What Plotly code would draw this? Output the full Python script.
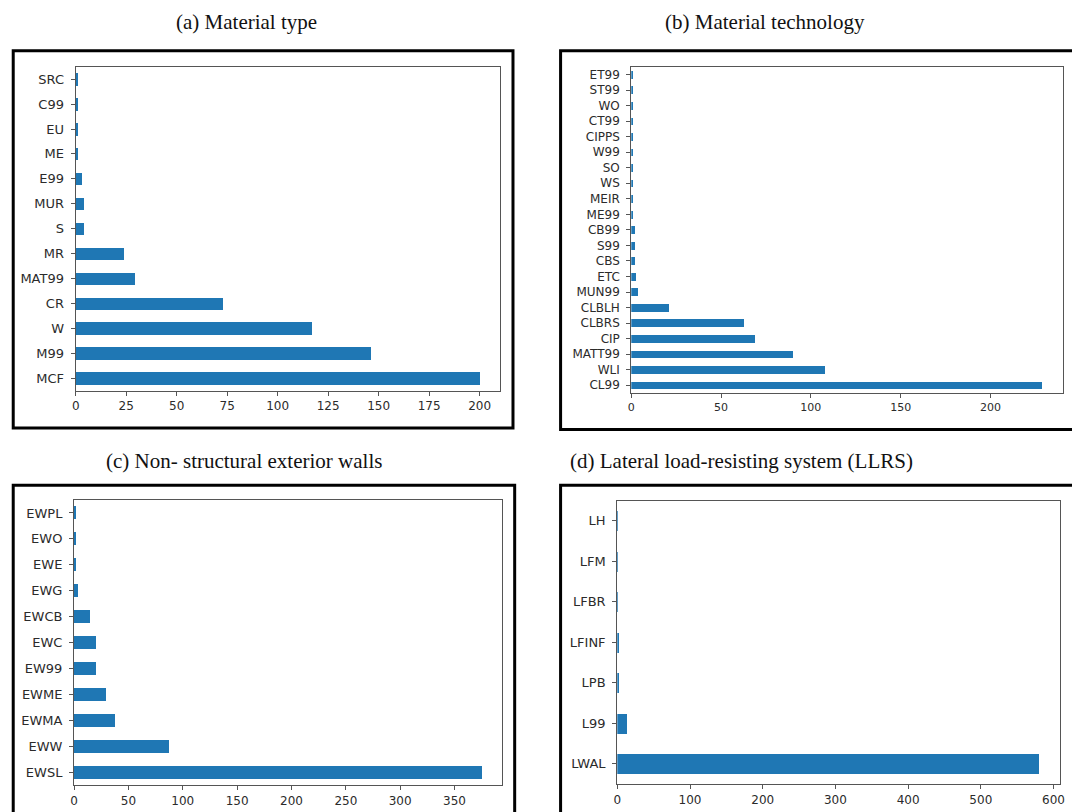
import plotly.graph_objects as go

# Counts per category, listed from the bottom bar upward
a_labels = ["MCF", "M99", "W", "CR", "MAT99", "MR", "S", "MUR", "E99", "ME", "EU", "C99", "SRC"]
a_values = [200, 146, 117, 73, 29, 24, 4, 4, 3, 1, 1, 1, 1]

b_labels = ["CL99", "WLI", "MATT99", "CIP", "CLBRS", "CLBLH", "MUN99", "ETC", "CBS", "S99", "CB99",
            "ME99", "MEIR", "WS", "SO", "W99", "CIPPS", "CT99", "WO", "ST99", "ET99"]
b_values = [229, 108, 90, 69, 63, 21, 4, 3, 2, 2, 2, 1, 1, 1, 1, 1, 1, 1, 1, 1, 1]

c_labels = ["EWSL", "EWW", "EWMA", "EWME", "EW99", "EWC", "EWCB", "EWG", "EWE", "EWO", "EWPL"]
c_values = [375, 87, 38, 29, 20, 20, 15, 4, 2, 2, 2]

d_labels = ["LWAL", "L99", "LPB", "LFINF", "LFBR", "LFM", "LH"]
d_values = [580, 14, 3, 3, 1, 1, 1]

titles = ["(a) Material type", "(b) Material technology",
          "(c) Non- structural exterior walls", "(d) Lateral load-resisting system (LLRS)"]

W, H = 1072, 812
BAR = "#1f77b4"
AX = "#555555"
TXT = "#2b2b2b"


def px(x):
    return x / W


def py(y):
    return 1 - y / H


panels = [
    # labels, values, plot box (left, right, top, bottom), dtick, ytick size, xtick size
    (a_labels, a_values, (72.3, 500.0, 66.7, 390.7), 25, 13, 12),
    (b_labels, b_values, (632.6, 1068.0, 66.7, 393.0), 50, 12, 11),
    (c_labels, c_values, (70.7, 502.3, 500.0, 785.0), 50, 13, 12),
    (d_labels, d_values, (618.5, 1065.0, 500.5, 784.0), 100, 13, 12),
]

fig = go.Figure()
layout = {}
for i, (labels, values, box, dtick, ysz, xsz) in enumerate(panels, start=1):
    sx = "" if i == 1 else str(i)
    fig.add_trace(go.Bar(
        x=values, y=labels, orientation="h", width=0.5,
        marker=dict(color=BAR, line=dict(width=0)),
        xaxis="x" + sx, yaxis="y" + sx, showlegend=False,
        hoverinfo="x+y",
    ))
    left, right, top, bottom = box
    layout["xaxis" + sx] = dict(
        domain=[px(left), px(right)], anchor="y" + sx,
        range=[0, max(values) * 1.05], dtick=dtick, tick0=0,
        showgrid=False, zeroline=False, showline=True, mirror=True,
        linecolor=AX, linewidth=1.2, ticks="outside", ticklen=4, tickcolor=AX,
        tickfont=dict(family="DejaVu Sans", size=xsz, color=TXT),
    )
    layout["yaxis" + sx] = dict(
        domain=[py(bottom), py(top)], anchor="x" + sx,
        type="category", categoryorder="array", categoryarray=labels,
        range=[-0.5, len(labels) - 0.5],
        showgrid=False, zeroline=False, showline=True, mirror=True,
        linecolor=AX, linewidth=1.2, ticks="outside", ticklen=4, tickcolor=AX,
        ticklabelstandoff=4,
        tickfont=dict(family="DejaVu Sans", size=ysz, color=TXT),
    )

fig.update_layout(
    width=W, height=H, margin=dict(l=0, r=0, t=0, b=0),
    paper_bgcolor="white", plot_bgcolor="white", bargap=0,
    **layout,
)

# Black frames around each panel
frames = [(9.3, 513.3, 50.7, 428.0), (561.3, 1085.0, 50.7, 429.5),
          (9.3, 515.0, 485.3, 830.0), (561.3, 1085.0, 485.3, 830.0)]
for x0, x1, y0, y1 in frames:
    fig.add_shape(type="rect", xref="paper", yref="paper",
                  x0=px(x0), x1=px(x1), y0=py(y1), y1=py(y0),
                  line=dict(color="black", width=3), fillcolor="rgba(0,0,0,0)")

# Panel captions
title_pos = [(245, 22), (767, 22), (242, 461), (744, 461)]
for text, (cx, cy) in zip(titles, title_pos):
    fig.add_annotation(text=text, xref="paper", yref="paper", x=px(cx), y=py(cy),
                       xanchor="center", yanchor="middle", showarrow=False,
                       font=dict(family="Liberation Serif", size=21, color="#111111"))

fig.write_html("out.html")
